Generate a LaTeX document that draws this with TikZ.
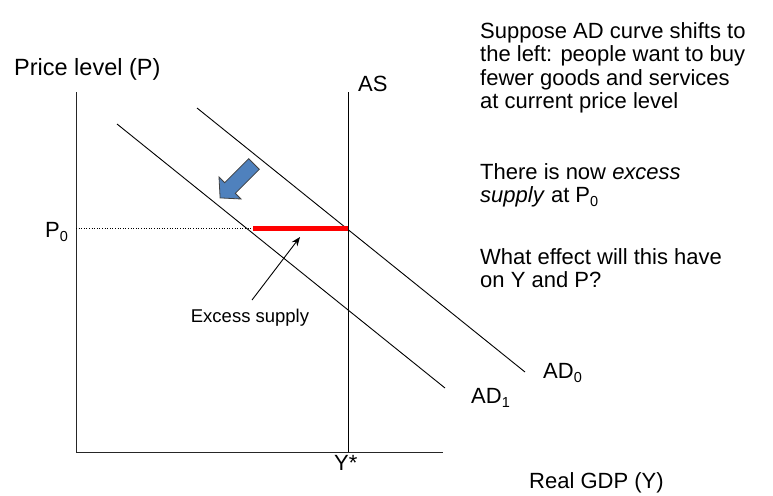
\documentclass[tikz,border=0pt]{standalone}
\usepackage{fontspec}
\setmainfont{Liberation Sans}
\usetikzlibrary{arrows.meta}
\newcommand{\mysub}[1]{\raisebox{-0.35ex}{\fontsize{14.5}{14.5}\selectfont #1}}
\begin{document}
\begin{tikzpicture}[x=1pt,y=-1pt,
  big/.style={font=\fontsize{22}{23}\selectfont, inner sep=0pt, anchor=base west},
  rtext/.style={font=\fontsize{22}{23}\selectfont, inner sep=0pt, anchor=base west},
  small/.style={font=\fontsize{18.5}{20}\selectfont, inner sep=0pt},
  curve/.style={line width=0.9pt, black},
  axis/.style={line width=1pt, black!85}]
\useasboundingbox (0,0) rectangle (773,495);
% axes
\coordinate (ytop) at (76,92);
\coordinate (orig) at (76,452);
\coordinate (xend) at (443,452);
\draw[axis] (ytop) -- (orig) -- (xend);
% AS
\coordinate (astop) at (348,92);
\coordinate (asbot) at (348,452);
\draw[curve] (astop) -- (asbot);
% AD curves
\coordinate (ad0a) at (197,108);
\coordinate (ad0b) at (525,372);
\coordinate (ad1a) at (117,124);
\coordinate (ad1b) at (445,388);
\draw[curve] (ad0a) -- (ad0b);
\draw[curve] (ad1a) -- (ad1b);
% P0 dotted and red
\coordinate (p0a) at (76,228);
\coordinate (redl) at (253,228);
\coordinate (redr) at (348,228);
\draw[dotted, line width=0.6pt] (p0a) -- (redl);
\draw[red, line width=5pt] (redl) -- (redr);
% blue block arrow
\filldraw[fill={rgb,255:red,79;green,129;blue,189}, draw=black!75, line width=0.8pt, line join=miter]
  (259.3,169.3) -- (248.7,158.7) -- (224.7,182.7) -- (219,177) -- (220.1,197.9)
  -- (241,199) -- (235.3,193.3) -- cycle;
% excess supply
\node[small] (es) at (250,318) {Excess supply};
\coordinate (esfrom) at (252,300);
\coordinate (esto) at (300,237);
\draw[line width=0.9pt, -{Stealth[length=9pt,width=7pt]}] (esfrom) -- (esto);
% labels
\node[big, font=\fontsize{23.5}{24}\selectfont] (plab) at (14,75) {Price level (P)};
\node[big] (aslab) at (358,92) {AS};
\node[big] (p0lab) at (45,237) {P\mysub{0}};
\node[big] (ystar) at (334,470) {Y*};
\node[big] (xlab) at (529,488) {Real GDP (Y)};
\node[big] (ad0lab) at (543,378) {AD\mysub{0}};
\node[big] (ad1lab) at (471,403) {AD\mysub{1}};
% right text
\node[rtext] (t1a) at (480,39) {Suppose AD curve shifts to};
\node[rtext] (t1b) at (480,62) {the left: people want to buy};
\node[rtext] (t1c) at (480,85) {fewer goods and services};
\node[rtext] (t1d) at (480,108) {at current price level};
\node[rtext] (t2a) at (480,179) {There is now \textit{excess}};
\node[rtext] (t2b) at (480,202) {\textit{supply} at P\mysub{0}};
\node[rtext] (t3a) at (480,264) {What effect will this have};
\node[rtext] (t3b) at (480,287) {on Y and P?};
\end{tikzpicture}
\end{document}
